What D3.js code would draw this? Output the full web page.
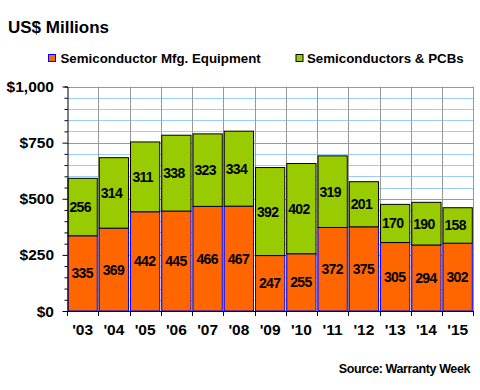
<!DOCTYPE html>
<html><head><meta charset="utf-8">
<script src="https://cdn.jsdelivr.net/npm/d3@7"></script>
<style>body{margin:0;background:#fff;} svg{display:block;font-family:Arial,"Liberation Sans",sans-serif;}</style>
</head><body>
<svg id="c" width="480" height="390"></svg>
<script>
const years = ["'03","'04","'05","'06","'07","'08","'09","'10","'11","'12","'13","'14","'15"];
const equipment = [335,369,442,445,466,467,247,255,372,375,305,294,302];
const semis = [256,314,311,338,323,334,392,402,319,201,170,190,158];
const seriesNames = ["Semiconductor Mfg. Equipment","Semiconductors & PCBs"];
const yTicks = [0,250,500,750,1000];
const yLabels = ["$0","$250","$500","$750","$1,000"];

const svg = d3.select("#c");
const L=67, R=473.3, T=86.5, B=311;
const x = d3.scaleBand().domain(years).range([L,R]).paddingInner(0).paddingOuter(0);
const y = d3.scaleLinear().domain([0,1000]).range([B,T]);

svg.append("text").attr("x",8).attr("y",33).attr("font-size",17).attr("font-weight","bold").text("US$ Millions");

// legend
const colors=["#ff6600","#99cc00"], strokes=["#0000ff","#000000"];
const lg=[{x:48,tx:60.5},{x:295.5,tx:307}];
seriesNames.forEach((n,i)=>{
  svg.append("rect").attr("x",lg[i].x+0.5).attr("y",54.5).attr("width",7).attr("height",7)
    .attr("fill",colors[i]).attr("stroke",strokes[i]).attr("stroke-width",1);
  svg.append("text").attr("x",lg[i].tx).attr("y",63).attr("font-size",13.3).attr("font-weight","bold").text(n);
});

// gridlines minor
const minor = d3.range(50,1001,50).filter(v=>v%250!==0);
svg.append("g").selectAll("line").data(minor).join("line")
  .attr("x1",L).attr("x2",R).attr("y1",d=>Math.round(y(d))+0.5).attr("y2",d=>Math.round(y(d))+0.5)
  .attr("stroke","#99ccff").attr("stroke-width",1);
svg.append("g").selectAll("line").data([250,500,750,1000]).join("line")
  .attr("x1",L).attr("x2",R).attr("y1",d=>Math.round(y(d))+0.5).attr("y2",d=>Math.round(y(d))+0.5)
  .attr("stroke","#999999").attr("stroke-width",1);
// vertical grid
svg.append("g").selectAll("line").data(years.slice(1).concat(["end"])).join("line")
  .attr("x1",(d,i)=>Math.round(L+(i+1)*x.bandwidth())+0.5).attr("x2",(d,i)=>Math.round(L+(i+1)*x.bandwidth())+0.5)
  .attr("y1",T).attr("y2",B).attr("stroke","#999999").attr("stroke-width",1);

// bars
const bw = x.bandwidth();
const g = svg.append("g");
years.forEach((yr,i)=>{
  const x0 = x(yr)+1, w = bw-2;
  const e = equipment[i], s = semis[i];
  g.append("rect").attr("x",x0).attr("y",y(e)).attr("width",w).attr("height",y(0)-y(e))
    .attr("fill","#ff6600").attr("stroke","#0000ff").attr("stroke-width",1);
  g.append("rect").attr("x",x0).attr("y",y(e+s)).attr("width",w).attr("height",y(0)-y(s))
    .attr("fill","#99cc00").attr("stroke","#000000").attr("stroke-width",1);
  g.append("text").attr("x",x(yr)+bw/2-0.5).attr("y",(y(0)+y(e))/2+5).attr("text-anchor","middle")
    .attr("font-size",14).attr("font-weight","bold").attr("letter-spacing",-0.7).text(e);
  g.append("text").attr("x",x(yr)+bw/2-2.5).attr("y",(y(e)+y(e+s))/2+5).attr("text-anchor","middle")
    .attr("font-size",14).attr("font-weight","bold").attr("letter-spacing",-0.7).text(s);
});

// axes
const ya = d3.axisLeft(y).tickValues(d3.range(0,1001,50)).tickSize(3).tickFormat("");
const yg = svg.append("g").attr("transform",`translate(${L+0.5},0)`).call(ya);
yg.selectAll(".tick line").attr("stroke","#000").attr("x2",(d)=>d%250===0?-5:-3);
yg.select(".domain").attr("stroke","#000");
svg.append("g").selectAll("text").data(yTicks).join("text")
  .attr("x",54).attr("y",d=>y(d)+5.5).attr("text-anchor","end").attr("font-size",15.5).attr("font-weight","bold")
  .text((d,i)=>yLabels[i]);

svg.append("line").attr("x1",L).attr("x2",R+0.5).attr("y1",B+0.5).attr("y2",B+0.5).attr("stroke","#000");
svg.append("g").selectAll("line").data(d3.range(years.length+1)).join("line")
  .attr("x1",d=>Math.round(L+d*bw)+0.5).attr("x2",d=>Math.round(L+d*bw)+0.5)
  .attr("y1",B).attr("y2",B+5).attr("stroke","#000");
svg.append("g").selectAll("text").data(years).join("text")
  .attr("x",d=>x(d)+bw/2).attr("y",335).attr("text-anchor","middle").attr("font-size",15.5).attr("font-weight","bold")
  .text(d=>d);

svg.append("text").attr("x",470).attr("y",372.5).attr("text-anchor","end").attr("font-size",12.5).attr("font-weight","bold")
  .attr("letter-spacing",-0.4).text("Source: Warranty Week");
</script>
</body></html>
